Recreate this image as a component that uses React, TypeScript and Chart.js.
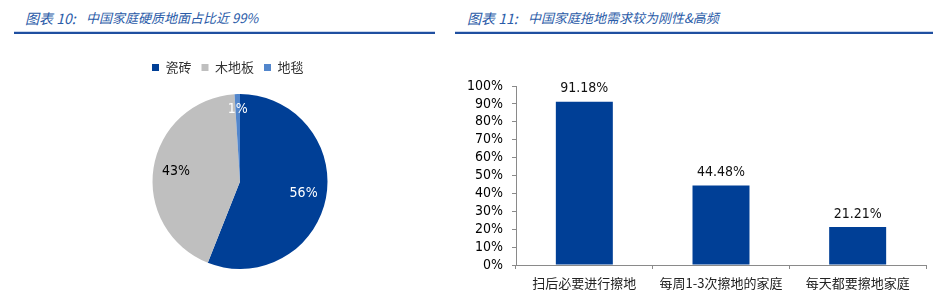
import React, { useEffect, useRef } from "react";
import { Chart, registerables } from "chart.js";

Chart.register(...registerables);

// ---- data ----
const leftTitlePrefix = "图表 10:";
const leftTitleText = "中国家庭硬质地面占比近 99%";
const rightTitlePrefix = "图表 11:";
const rightTitleText = "中国家庭拖地需求较为刚性&高频";

const pieLabels = ["瓷砖", "木地板", "地毯"];
const pieValues = [56, 43, 1];

const barCategories = ["扫后必要进行擦地", "每周1-3次擦地的家庭", "每天都要擦地家庭"];
const barValues = [91.18, 44.48, 21.21];
const yMin = 0;
const yMax = 100;
const yStep = 10;

// ---- styles ----
const DARK_BLUE = "#003F96";
const GRAY = "#BFBFBF";
const LIGHT_BLUE = "#5286CC";
const pieColors = [DARK_BLUE, GRAY, LIGHT_BLUE];
const pieLabelColors = ["#ffffff", "#000000", "#ffffff"];
const pieLabelRadius = [0.74, 0.74, 0.82];
const NUM_FONT = '"DejaVu Sans Condensed", "DejaVu Sans", sans-serif';
const CJK_FONT = '"Noto Sans CJK SC", sans-serif';
const AXIS_COLOR = "#8A8A8A";
const TITLE_COLOR = "#2A5BA8";
const RULE_COLOR = "#1F4FA0";

const pieLabelPlugin = {
  id: "pieValueLabels",
  afterDatasetsDraw(chart: any) {
    const ctx = chart.ctx;
    const meta = chart.getDatasetMeta(0);
    ctx.save();
    ctx.font = `14px ${NUM_FONT}`;
    ctx.textAlign = "center";
    ctx.textBaseline = "middle";
    meta.data.forEach((arc: any, i: number) => {
      const p = arc.getProps(["x", "y", "startAngle", "endAngle", "outerRadius"], true);
      const mid = (p.startAngle + p.endAngle) / 2;
      const r = p.outerRadius * pieLabelRadius[i];
      ctx.fillStyle = pieLabelColors[i];
      ctx.fillText(pieValues[i] + "%", p.x + Math.cos(mid) * r, p.y + Math.sin(mid) * r);
    });
    ctx.restore();
  },
};

// adds a gap below the legend
const legendGapPlugin = {
  id: "legendGap",
  beforeInit(chart: any) {
    if (!chart.legend) return;
    const orig = chart.legend.fit;
    chart.legend.fit = function () {
      orig.bind(chart.legend)();
      this.height += 10;
    };
  },
};

const barLabelPlugin = {
  id: "barValueLabels",
  afterDatasetsDraw(chart: any) {
    const ctx = chart.ctx;
    const meta = chart.getDatasetMeta(0);
    ctx.save();
    ctx.font = `14px ${NUM_FONT}`;
    ctx.textAlign = "center";
    ctx.textBaseline = "middle";
    ctx.fillStyle = "#111111";
    meta.data.forEach((bar: any, i: number) => {
      const p = bar.getProps(["x", "y"], true);
      ctx.fillText(barValues[i].toFixed(2) + "%", p.x, p.y - 13);
    });
    ctx.restore();
  },
};

function PieChart() {
  const ref = useRef<HTMLCanvasElement>(null);
  useEffect(() => {
    if (!ref.current) return;
    const chart = new Chart(ref.current, {
      type: "pie",
      data: {
        labels: pieLabels,
        datasets: [
          {
            data: pieValues,
            backgroundColor: pieColors,
            borderWidth: 0,
          },
        ],
      },
      options: {
        responsive: false,
        animation: false,
        layout: { padding: 0 },
        plugins: {
          tooltip: { enabled: false },
          legend: {
            position: "top",
            align: "start",
            labels: {
              boxWidth: 7,
              boxHeight: 7,
              padding: 10,
              color: "#333333",
              font: { size: 13, family: CJK_FONT },
            },
          },
        },
      },
      plugins: [legendGapPlugin, pieLabelPlugin],
    } as any);
    return () => chart.destroy();
  }, []);
  return (
    <canvas
      ref={ref}
      width={196}
      height={218}
      style={{ position: "absolute", left: 142, top: 51, width: 196, height: 218 }}
    />
  );
}

function BarChart() {
  const ref = useRef<HTMLCanvasElement>(null);
  useEffect(() => {
    if (!ref.current) return;
    const chart = new Chart(ref.current, {
      type: "bar",
      data: {
        labels: barCategories,
        datasets: [
          {
            data: barValues,
            backgroundColor: DARK_BLUE,
            borderWidth: 0,
            categoryPercentage: 1,
            barPercentage: 0.417,
          },
        ],
      },
      options: {
        responsive: false,
        animation: false,
        layout: { padding: { top: 26, right: 7, left: 0, bottom: 0 } },
        plugins: { legend: { display: false }, tooltip: { enabled: false } },
        scales: {
          x: {
            grid: {
              offset: true,
              drawOnChartArea: false,
              drawTicks: true,
              tickLength: 4,
              color: AXIS_COLOR,
            },
            border: { display: true, color: AXIS_COLOR, width: 1 },
            ticks: {
              color: "#222222",
              font: { size: 13, family: CJK_FONT },
              padding: 6,
              maxRotation: 0,
              minRotation: 0,
              autoSkip: false,
            },
            afterFit: (s: any) => {
              s.height = 30;
            },
          },
          y: {
            min: yMin,
            max: yMax,
            grid: {
              drawOnChartArea: false,
              drawTicks: true,
              tickLength: 4,
              color: AXIS_COLOR,
            },
            border: { display: true, color: AXIS_COLOR, width: 1 },
            ticks: {
              stepSize: yStep,
              autoSkip: false,
              color: "#000000",
              font: { size: 14, family: NUM_FONT },
              padding: 9,
              callback: (v: any) => v + "%",
            },
            afterFit: (s: any) => {
              s.width = 61;
            },
          },
        },
      },
      plugins: [barLabelPlugin],
    } as any);
    return () => chart.destroy();
  }, []);
  return (
    <canvas
      ref={ref}
      width={478}
      height={235}
      style={{ position: "absolute", left: 455, top: 60, width: 478, height: 235 }}
    />
  );
}

const titleStyle: React.CSSProperties = {
  position: "absolute",
  top: 9,
  fontFamily: CJK_FONT,
  fontStyle: "italic",
  fontSize: 13,
  lineHeight: "18px",
  color: TITLE_COLOR,
  whiteSpace: "pre",
};

const prefixStyle: React.CSSProperties = {
  ...titleStyle,
  fontSize: 14,
};

const ruleStyle: React.CSSProperties = {
  position: "absolute",
  top: 31,
  height: 2,
  background: RULE_COLOR,
  borderTop: "1px solid #C9D6EC",
};

export default function App() {
  return (
    <div
      style={{
        position: "absolute",
        left: 0,
        top: 0,
        width: 933,
        height: 295,
        background: "#ffffff",
        overflow: "hidden",
      }}
    >
      <div style={{ ...prefixStyle, left: 25 }}>{leftTitlePrefix}</div>
      <div style={{ ...titleStyle, left: 86 }}>{leftTitleText}</div>
      <div style={{ ...ruleStyle, left: 14, width: 421 }} />
      <div style={{ ...prefixStyle, left: 467 }}>{rightTitlePrefix}</div>
      <div style={{ ...titleStyle, left: 528 }}>{rightTitleText}</div>
      <div style={{ ...ruleStyle, left: 455, width: 478 }} />
      <PieChart />
      <BarChart />
    </div>
  );
}
